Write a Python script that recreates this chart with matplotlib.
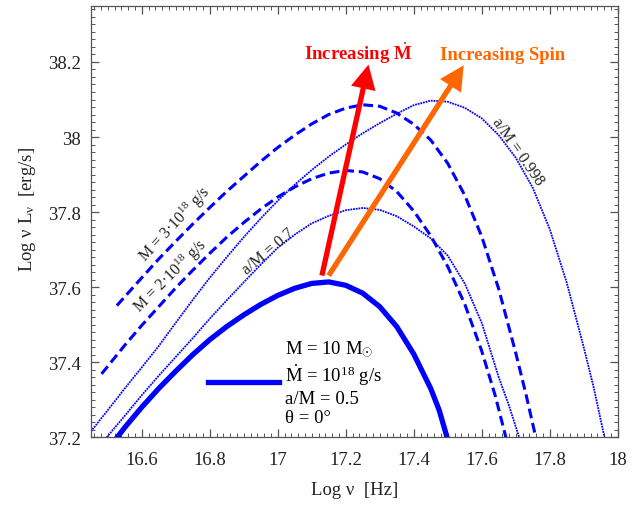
import numpy as np
import matplotlib
matplotlib.use("Agg")
import matplotlib.pyplot as plt
from matplotlib.ticker import MultipleLocator, FuncFormatter

plt.rcParams['font.family'] = ['Liberation Serif', 'DejaVu Serif']
plt.rcParams['mathtext.fontset'] = 'custom'
plt.rcParams['mathtext.rm'] = 'Liberation Serif'
plt.rcParams['mathtext.it'] = 'Liberation Serif:italic'
plt.rcParams['mathtext.bf'] = 'Liberation Serif:bold'

# base model: M = 10 Msun, Mdot = 1e18 g/s, a/M = 0.5
base_x = [16.528, 16.55, 16.60, 16.65, 16.70, 16.75, 16.80, 16.85, 16.90, 16.95, 17.00,
          17.05, 17.10, 17.15, 17.20, 17.25, 17.30, 17.35, 17.40, 17.45, 17.475, 17.498]
base_y = [37.200, 37.226, 37.280, 37.330, 37.376, 37.420, 37.460, 37.495, 37.526, 37.554, 37.578,
          37.597, 37.610, 37.614, 37.605, 37.584, 37.548, 37.495, 37.422, 37.330, 37.272, 37.200]

# Mdot = 2e18 g/s
md2_x = [16.482, 16.55, 16.60, 16.65, 16.70, 16.75, 16.80, 16.85, 16.90, 16.95, 17.00, 17.05,
         17.10, 17.15, 17.20, 17.25, 17.30, 17.35, 17.40, 17.45, 17.50, 17.55, 17.60, 17.64, 17.671]
md2_y = [37.369, 37.445, 37.498, 37.548, 37.598, 37.645, 37.690, 37.733, 37.772, 37.808, 37.840, 37.867,
         37.889, 37.904, 37.911, 37.907, 37.889, 37.855, 37.803, 37.737, 37.655, 37.555, 37.430, 37.310, 37.200]

# Mdot = 3e18 g/s
md3_x = [16.527, 16.60, 16.65, 16.70, 16.75, 16.80, 16.85, 16.90, 16.95, 17.00, 17.05, 17.10, 17.15,
         17.20, 17.25, 17.30, 17.35, 17.40, 17.45, 17.50, 17.55, 17.60, 17.65, 17.70, 17.73, 17.759]
md3_y = [37.551, 37.625, 37.675, 37.722, 37.768, 37.812, 37.855, 37.895, 37.935, 37.972, 38.005, 38.035, 38.060,
         38.077, 38.086, 38.082, 38.064, 38.034, 37.992, 37.930, 37.845, 37.735, 37.595, 37.425, 37.315, 37.200]

# a/M = 0.7
a07_x = [16.497, 16.55, 16.60, 16.65, 16.70, 16.75, 16.80, 16.85, 16.90, 16.95, 17.00, 17.05, 17.10,
         17.15, 17.20, 17.25, 17.30, 17.35, 17.40, 17.45, 17.50, 17.55, 17.60, 17.65, 17.68, 17.71]
a07_y = [37.200, 37.257, 37.312, 37.364, 37.414, 37.464, 37.516, 37.565, 37.613, 37.660, 37.705, 37.740, 37.770,
         37.790, 37.805, 37.811, 37.806, 37.789, 37.762, 37.730, 37.684, 37.610, 37.505, 37.360, 37.285, 37.200]

# a/M = 0.998
a998_x = [16.45, 16.50, 16.55, 16.60, 16.65, 16.70, 16.75, 16.80, 16.85, 16.90, 16.95, 17.00, 17.05, 17.10,
          17.15, 17.20, 17.25, 17.30, 17.35, 17.40, 17.45, 17.50, 17.55, 17.60, 17.65, 17.70, 17.75, 17.80,
          17.85, 17.90, 17.93, 17.961]
a998_y = [37.215, 37.272, 37.330, 37.386, 37.443, 37.505, 37.566, 37.625, 37.680, 37.733, 37.783, 37.830, 37.873,
          37.912, 37.948, 37.980, 38.010, 38.037, 38.062, 38.085, 38.097, 38.094, 38.078, 38.050, 38.005, 37.945,
          37.865, 37.755, 37.612, 37.440, 37.330, 37.200]

# arrows (tail, tip) in data units
mdot_arrow = [(17.130, 37.631), (17.267, 38.193)]
spin_arrow = [(17.150, 37.631), (17.547, 38.191)]

blue = '#0000ff'
fig = plt.figure(figsize=(6.41, 5.06), dpi=100)
ax = fig.add_axes([0.1415, 0.1338, 0.8222, 0.8530])

ax.plot(a998_x, a998_y, color=blue, lw=1.3, ls=(0, (1, 0.5)))
ax.plot(a07_x, a07_y, color=blue, lw=1.3, ls=(0, (1, 0.5)))
ax.plot(md3_x, md3_y, color=blue, lw=2.2, ls=(0, (3.2, 1.6)))
ax.plot(md2_x, md2_y, color=blue, lw=2.2, ls=(0, (3.2, 1.6)))
ax.plot(base_x, base_y, color=blue, lw=3.8,
        label='M = 10 M$_{\\odot}$\n$\\dot{\\mathrm{M}}$ = 10$^{18}$ g/s\na/M = 0.5\nθ = 0°')

# arrows
for (tail, tip), col in [(mdot_arrow, '#ff0000'), (spin_arrow, '#ff6600')]:
    ax.annotate('', xy=tip, xytext=tail,
                arrowprops=dict(arrowstyle='simple,head_length=1.75,head_width=1.8,tail_width=0.38',
                                mutation_scale=10, color=col, lw=0,
                                shrinkA=0, shrinkB=0))

ax.text(17.235, 38.2075, 'Increasing $\\dot{\\mathbf{M}}$', color='#ff0000', fontsize=13.5,
        fontweight='bold', ha='center', va='baseline')
ax.text(17.66, 38.2075, 'Increasing Spin', color='#ff6600', fontsize=13.5,
        fontweight='bold', ha='center', va='baseline')

# curve labels
ax.text(16.698, 37.769, 'M = 3·10$^{18}$ g/s', fontsize=11.5, rotation=47,
        rotation_mode='anchor', ha='center', va='center', color='#222222')
ax.text(16.684, 37.631, 'M = 2·10$^{18}$ g/s', fontsize=11.5, rotation=45,
        rotation_mode='anchor', ha='center', va='center', color='#222222')
ax.text(16.972, 37.697, 'a/M = 0.7', fontsize=11.5, rotation=40,
        rotation_mode='anchor', ha='center', va='center', color='#222222')
ax.text(17.705, 37.964, 'a/M = 0.998', fontsize=11.5, rotation=-55,
        rotation_mode='anchor', ha='center', va='center', color='#222222')

leg = ax.legend(loc='center left', bbox_to_anchor=(0.2226, 0.128), frameon=False,
                fontsize=13.5, handlelength=3.8, handletextpad=0.3,
                borderpad=0, borderaxespad=0)

ax.set_xlim(16.45, 18.0)
ax.set_ylim(37.2, 38.35)
ax.xaxis.set_major_locator(MultipleLocator(0.2))
ax.xaxis.set_minor_locator(MultipleLocator(0.02))
ax.yaxis.set_major_locator(MultipleLocator(0.2))
ax.yaxis.set_minor_locator(MultipleLocator(0.02))
fmt = FuncFormatter(lambda v, p: '%g' % round(v, 2))
ax.xaxis.set_major_formatter(fmt)
ax.yaxis.set_major_formatter(fmt)

ax.tick_params(which='both', direction='in', top=True, right=True, color='#555555',
               labelsize=13.5, labelcolor='#222222')
ax.tick_params(which='major', length=6, width=0.9)
ax.tick_params(which='minor', length=3, width=0.7)
ax.tick_params(axis='y', pad=7)
ax.tick_params(axis='x', pad=10)
for s in ax.spines.values():
    s.set_color('#555555')
    s.set_linewidth(0.9)

ax.set_xlabel('Log ν  [Hz]', fontsize=13.5, color='#222222')
ax.set_ylabel('Log ν L$_{\\mathrm{ν}}$  [erg/s]', fontsize=13.5, color='#222222')
ax.xaxis.set_label_coords(0.5, -0.12)
ax.xaxis.label.set_va('center')
ax.yaxis.set_label_coords(-0.119, 0.53)
ax.yaxis.label.set_va('center')

fig.savefig('out.png', dpi=100)
